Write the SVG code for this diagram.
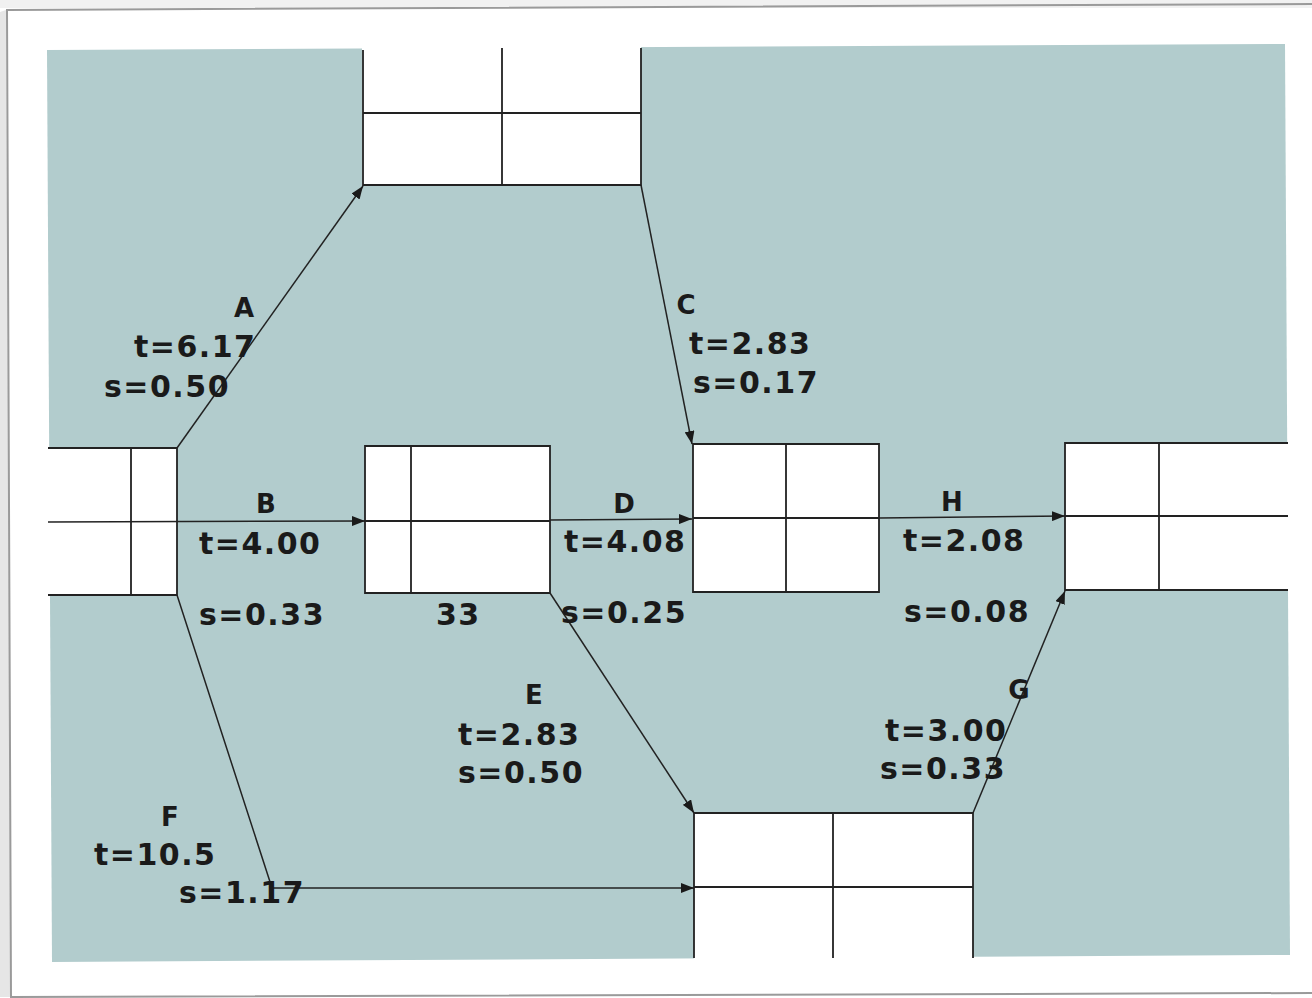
<svg xmlns="http://www.w3.org/2000/svg" width="1312" height="998" viewBox="0 0 1312 998">
<style>
.ln{stroke:#222;stroke-width:1.8;fill:none}
.wh{fill:#fff;stroke:none}
.conn{stroke:#222;stroke-width:1.5;fill:none}
.lab{font-family:"DejaVu Sans","Liberation Sans",sans-serif;font-weight:bold;font-size:26px;fill:#1a1a1a;text-anchor:middle}
.val{font-family:"DejaVu Sans","Liberation Sans",sans-serif;font-weight:bold;font-size:30px;fill:#1a1a1a;letter-spacing:1.5px}
</style>
<defs>
<marker id="arr" markerUnits="userSpaceOnUse" markerWidth="14" markerHeight="10" refX="13" refY="5" orient="auto">
<path d="M0,0 L13,5 L0,10 Z" fill="#1a1a1a"/>
</marker>
</defs>
<rect x="0" y="0" width="1312" height="998" fill="#fff"/>
<rect x="0" y="0" width="1312" height="8" fill="#f1f1f1"/>
<polygon points="0,12 6,10 11,997 0,997" fill="#e6e6e6"/>
<polyline points="1312,4 7,10 11,997 1312,993" fill="none" stroke="#9a9a9a" stroke-width="2"/>
<polygon id="background" points="47,50 1285,44 1290,955 52,962" fill="#b2cccd"/>

<g id="node-top">
<rect class="wh" x="362" y="44" width="279" height="141"/>
<path class="ln" d="M363,50 V185 H641 V48 M502,48 V185 M363,113 H641"/>
</g>
<g id="node-start">
<rect class="wh" x="47" y="448" width="130" height="147"/>
<path class="ln" d="M48,448 H177 V595 H48 M131,448 V595"/>
</g>
<g id="node-2">
<rect class="wh" x="365" y="446" width="185" height="147"/>
<path class="ln" d="M365,446 H550 V593 H365 Z M411,446 V593 M365,521 H550"/>
</g>
<g id="node-3">
<rect class="wh" x="693" y="444" width="186" height="148"/>
<path class="ln" d="M693,444 H879 V592 H693 Z M786,444 V592 M693,518 H879"/>
</g>
<g id="node-end">
<rect class="wh" x="1065" y="443" width="227" height="147"/>
<path class="ln" d="M1288,443 H1065 V590 H1288 M1159,443 V590 M1065,516 H1288"/>
</g>
<g id="node-bottom">
<rect class="wh" x="694" y="813" width="279" height="149"/>
<path class="ln" d="M694,958 V813 H973 V958 M833,813 V958 M694,887 H973"/>
</g>

<g id="connectors">
<line class="conn" x1="177" y1="448" x2="363" y2="186" marker-end="url(#arr)"/>
<line class="conn" x1="48" y1="522" x2="365" y2="521" marker-end="url(#arr)"/>
<line class="conn" x1="641" y1="185" x2="692" y2="444" marker-end="url(#arr)"/>
<line class="conn" x1="550" y1="520" x2="692" y2="519" marker-end="url(#arr)"/>
<line class="conn" x1="550" y1="593" x2="694" y2="813" marker-end="url(#arr)"/>
<polyline class="conn" points="177,595 272,888 694,888" marker-end="url(#arr)"/>
<line class="conn" x1="973" y1="813" x2="1065" y2="591" marker-end="url(#arr)"/>
<line class="conn" x1="879" y1="518" x2="1065" y2="516" marker-end="url(#arr)"/>
</g>

<g id="labels">
<text class="lab" x="244" y="317">A</text>
<text class="val" x="134" y="357">t=6.17</text>
<text class="val" x="104" y="397">s=0.50</text>

<text class="lab" x="266" y="513">B</text>
<text class="val" x="199" y="554">t=4.00</text>
<text class="val" x="199" y="625">s=0.33</text>
<text class="val" x="436" y="625">33</text>

<text class="lab" x="686" y="314">C</text>
<text class="val" x="689" y="354">t=2.83</text>
<text class="val" x="693" y="393">s=0.17</text>

<text class="lab" x="624" y="513">D</text>
<text class="val" x="564" y="552">t=4.08</text>
<text class="val" x="561" y="623">s=0.25</text>

<text class="lab" x="952" y="511">H</text>
<text class="val" x="903" y="551">t=2.08</text>
<text class="val" x="904" y="622">s=0.08</text>

<text class="lab" x="534" y="704">E</text>
<text class="val" x="458" y="745">t=2.83</text>
<text class="val" x="458" y="783">s=0.50</text>

<text class="lab" x="1019" y="699">G</text>
<text class="val" x="885" y="741">t=3.00</text>
<text class="val" x="880" y="779">s=0.33</text>

<text class="lab" x="170" y="826">F</text>
<text class="val" x="94" y="865">t=10.5</text>
<text class="val" x="179" y="903">s=1.17</text>
</g>
</svg>
